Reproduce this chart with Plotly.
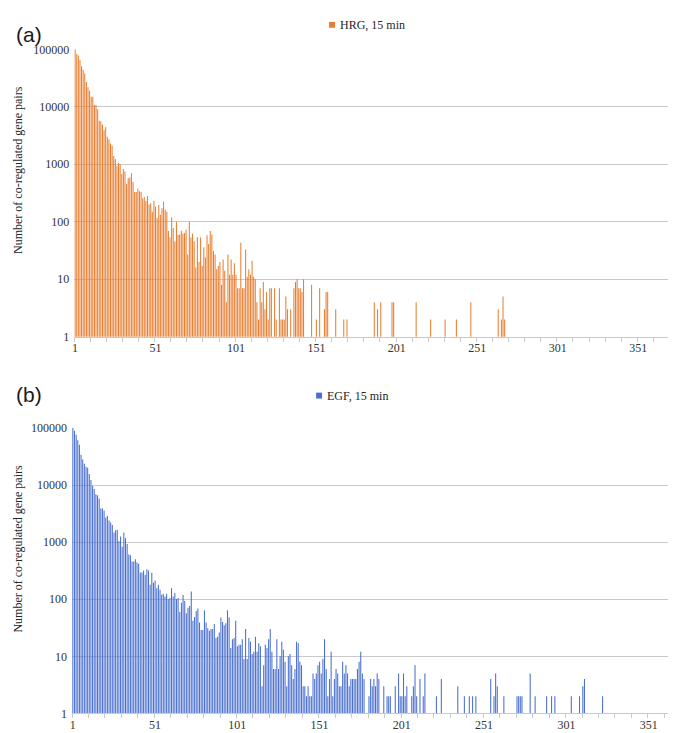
import plotly.graph_objects as go

# ---------------- DATA ----------------
# HRG, 15 min: dense counts for categories 1..68
hrg_head = [100000, 83000, 78000, 66000, 51000, 44000, 38000, 27000, 22000, 19000,
            15000, 15000, 10700, 10700, 9100, 5700, 5600, 4900, 3900, 4400,
            3000, 2700, 2300, 2100, 1400, 1230, 940, 1050, 1000, 680,
            830, 750, 460, 570, 590, 700, 490, 330, 330, 380,
            340, 330, 255, 270, 230, 280, 200, 210, 150, 230,
            182, 116, 195, 133, 172, 225, 162, 150, 69, 53,
            120, 78, 46, 100, 59, 60, 70, 62]
# HRG categories 69..148 (None = no bar)
hrg_mid = [64, 73, 27, 100, 53, 62, 46, 16, 54, 20,
           53, 17, 36, 24, 58, 41, 69, 60, 31, 27,
           15, 17, 20, 8, 22, 14, 4, 27, 12, 22,
           12, 19, 12, 7, 7, 43, 7, 7, 33, 11,
           15, 12, 21, 11, 10, 4, 2, 7, 4, 9,
           3, 6, 2, 7, 7, None, 7, 2, None, 7,
           2, 2, 2, 5, 3, None, 3, None, 7, 9,
           10, 7, 7, 6, 10, None, None, None, None, 8]
# HRG sparse tail
hrg_tail_cats = [151, 153, 156, 157, 158, 163, 168, 170, 187, 189, 191, 198, 199,
                 213, 222, 231, 238, 247, 264, 266, 267, 268]
hrg_tail_vals = [2, 7, 3, 6, 6, 3, 2, 2, 4, 3, 4, 4, 4,
                 4, 2, 2, 2, 4, 3, 2, 5, 2]

# EGF, 15 min: dense counts for categories 1..65
egf_head = [100000, 89000, 76000, 61000, 51000, 34000, 28000, 23500, 21000, 20000,
            15600, 12300, 9600, 8500, 6900, 6600, 5800, 3900, 3900, 3600,
            2700, 2900, 2400, 2200, 2000, 1470, 1620, 1650, 1050, 1260,
            830, 1470, 1170, 930, 610, 590, 460, 460, 500, 440,
            420, 295, 295, 320, 265, 335, 320, 180, 290, 195,
            210, 155, 180, 146, 120, 125, 112, 125, 101, 105,
            155, 112, 128, 101, 105]
# EGF categories 66..149
egf_mid = [60, 87, 118, 93, 57, 71, 76, 137, 42, 49,
           62, 69, 39, 29, 29, 64, 39, 31, 28, 30,
           30, 37, 21, 22, 26, 48, 40, 35, 38, 64,
           48, 14, 20, 21, 42, 15, 16, 16, 20, 9,
           30, 9, 21, 18, 11, 12, 22, 12, 17, 15,
           3, 7, 16, 14, 20, 30, 12, 6, 6, 20,
           6, 10, 18, 13, 8, 3, 10, 11, 7, 4,
           6, 18, 17, 8, 7, 3, 3, 2, 3, 2,
           2, 5, 4, 5]
# EGF categories 150..187
egf_mid2 = [7, 8, 5, 9, 20, 6, 2, 4, 12, 2,
            4, 6, 5, 3, 3, 8, 5, 7, 5, 3,
            4, 4, 4, 4, 6, 8, 12, 5, 4, None,
            None, 2, 4, 3, 4, 3, 5, 4]
# EGF sparse tail
egf_tail_cats = [190, 192, 193, 194, 197, 199, 200, 201, 202, 203, 204, 207, 208, 209,
                 210, 212, 214, 215, 222, 225, 235, 239, 242, 244, 246, 255, 257, 258,
                 259, 263, 271, 272, 273, 274, 279, 282, 289, 292, 294, 304, 309, 311,
                 312, 323]
egf_tail_vals = [3, 2, 2, 2, 3, 5, 2, 2, 5, 2, 3, 2, 3, 7,
                 2, 4, 2, 5, 2, 4, 3, 2, 2, 2, 2, 4, 2, 5,
                 3, 2, 2, 2, 2, 2, 5, 2, 2, 2, 2, 2, 2, 3,
                 4, 2]

x_tick_labels = ["1", "51", "101", "151", "201", "251", "301", "351"]
y_tick_labels = ["1", "10", "100", "1000", "10000", "100000"]
series_names = ["HRG, 15 min", "EGF, 15 min"]
y_title = "Number of co-regulated gene pairs"


def build(head, mids, tail_cats, tail_vals):
    vals = list(head)
    for m in mids:
        vals += list(m)
    cats = list(range(1, len(vals) + 1))
    for c, v in zip(tail_cats, tail_vals):
        cats.append(c)
        vals.append(v)
    xs = [c for c, v in zip(cats, vals) if v is not None]
    ys = [v for v in vals if v is not None]
    return xs, ys


hx, hy = build(hrg_head, [hrg_mid], hrg_tail_cats, hrg_tail_vals)
ex, ey = build(egf_head, [egf_mid, egf_mid2], egf_tail_cats, egf_tail_vals)

# slightly below 1 opacity -> plotly snaps bar edges to whole pixels (crisp thin bars)
ORANGE = "rgba(233,124,48,0.99)"
BLUE = "rgba(74,111,207,0.99)"
ORANGE_S = "#E97C30"
BLUE_S = "#4A6FCF"
GRID = "#C9C9C9"
SERIF = "Liberation Serif, Times New Roman, serif"
TXT = "#333333"

fig = go.Figure()
fig.add_trace(go.Bar(x=hx, y=hy, marker=dict(color=ORANGE, line=dict(width=0)),
                     name=series_names[0], xaxis="x", yaxis="y", showlegend=False))
fig.add_trace(go.Bar(x=ex, y=ey, marker=dict(color=BLUE, line=dict(width=0)),
                     name=series_names[1], xaxis="x2", yaxis="y2", showlegend=False))

tickpos = [int(t) for t in x_tick_labels]
ytickpos = [float(t) for t in y_tick_labels]


def xaxis(domain, rng, anchor):
    return dict(domain=domain, range=rng, anchor=anchor,
                tickvals=tickpos, ticktext=x_tick_labels, ticks="",
                ticklabelstandoff=0,
                showgrid=False, zeroline=False, showline=True, linecolor=GRID, linewidth=1,
                tickfont=dict(family=SERIF, size=12, color=TXT),
                minor=dict(tick0=0.5, dtick=10, ticks="outside", ticklen=4,
                           tickcolor=GRID, tickwidth=1, showgrid=False))


def yaxis(domain, anchor):
    return dict(domain=domain, type="log", range=[0, 5], anchor=anchor,
                tickvals=ytickpos, ticktext=y_tick_labels, ticks="",
                showgrid=True, gridcolor=GRID, gridwidth=1, zeroline=False,
                showline=False, ticklabelstandoff=4,
                tickfont=dict(family=SERIF, size=12, color=TXT))


W, H = 676, 733
fig.update_layout(
    width=W, height=H,
    margin=dict(l=0, r=0, t=0, b=0),
    paper_bgcolor="white", plot_bgcolor="white",
    bargap=0.35,
    xaxis=xaxis([64.5 / W, 1.0], [0.5, 379.5], "y"),
    yaxis=yaxis([1 - 328 / H, 1 - 35 / H], "x"),
    xaxis2=xaxis([62.2 / W, 1.0], [0.5, 372.5], "y2"),
    yaxis2=yaxis([1 - 712 / H, 1 - 421 / H], "x2"),
)

anns = []
shapes = []
# panel labels
for txt, yc in [("(a)", 20), ("(b)", 387)]:
    anns.append(dict(text=txt, x=4 / W, y=1 - yc / H, xref="paper", yref="paper",
                     xanchor="left", yanchor="middle", showarrow=False,
                     font=dict(family="Liberation Sans", size=21, color="#1a1a1a")))
# y titles
for yc in [158, 544]:
    anns.append(dict(text=y_title, x=8 / W, y=1 - yc / H, xref="paper", yref="paper",
                     xanchor="center", yanchor="middle", textangle=-90, showarrow=False,
                     font=dict(family=SERIF, size=12, color="#262626")))
# legends
for name, col, mx, my in [(series_names[0], ORANGE_S, 320, 10), (series_names[1], BLUE_S, 307, 388)]:
    shapes.append(dict(type="rect", xref="paper", yref="paper",
                       x0=mx / W, x1=(mx + 6) / W, y0=1 - (my + 3) / H, y1=1 - (my - 3) / H,
                       fillcolor=col, line=dict(width=0)))
    anns.append(dict(text=name, x=(mx + 9) / W, y=1 - my / H, xref="paper", yref="paper",
                     xanchor="left", yanchor="middle", showarrow=False,
                     font=dict(family=SERIF, size=12, color="#262626")))

fig.update_layout(annotations=anns, shapes=shapes)
fig.write_html("out.html")
